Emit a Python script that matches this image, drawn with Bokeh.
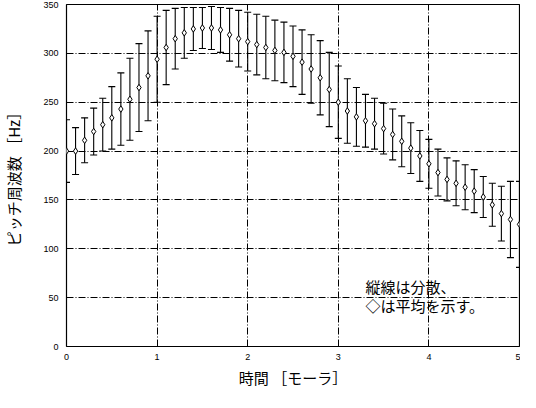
from bokeh.plotting import figure
from bokeh.models import Label, Range1d, FixedTicker
from bokeh.embed import file_html
from bokeh.resources import INLINE

# time in mora
mora = [0.0, 0.1, 0.2, 0.3, 0.4, 0.5, 0.6, 0.7, 0.8, 0.9,
        1.0, 1.1, 1.2, 1.3, 1.4, 1.5, 1.6, 1.7, 1.8, 1.9,
        2.0, 2.1, 2.2, 2.3, 2.4, 2.5, 2.6, 2.7, 2.8, 2.9,
        3.0, 3.1, 3.2, 3.3, 3.4, 3.5, 3.6, 3.7, 3.8, 3.9,
        4.0, 4.1, 4.2, 4.3, 4.4, 4.5, 4.6, 4.7, 4.8, 4.9, 5.0]
# mean pitch [Hz]
mean_hz = [200, 200, 211, 220, 227, 234, 243, 253, 265, 277,
           294, 306, 315, 321, 325, 326, 326, 324, 319, 315,
           312, 309, 306, 303, 301, 297, 291, 284, 275, 263,
           250, 241, 235, 231, 228, 223, 217, 210, 203, 195,
           187, 178, 171, 167, 163, 159, 153, 145, 136, 130, 125]
# spread (half length of vertical bar) [Hz]
spread_hz = [32, 24, 23, 24, 27, 32, 37, 42, 45, 46,
             44, 38, 31, 26, 22, 21, 22, 23, 27, 29,
             30, 31, 32, 31, 31, 31, 33, 35, 38, 38,
             37, 33, 30, 27, 26, 26, 26, 26, 26, 26,
             25, 24, 22, 23, 23, 22, 21, 22, 28, 39, 44]

x_ticks = [0, 1, 2, 3, 4, 5]
y_ticks = [0, 50, 100, 150, 200, 250, 300, 350]

x_title = "時間 ［モーラ］"
y_title = "ピッチ周波数 ［Hz］"
note_lines = ["縦線は分散、", "◇は平均を示す。"]

upper = [m + s for m, s in zip(mean_hz, spread_hz)]
lower = [m - s for m, s in zip(mean_hz, spread_hz)]

p = figure(width=520, height=392, output_backend="svg", toolbar_location=None,
           x_range=Range1d(0, 5), y_range=Range1d(0, 350),
           min_border_left=65, min_border_right=1, min_border_top=4, min_border_bottom=46)
p.background_fill_color = "white"
p.border_fill_color = "white"
p.outline_line_color = "black"
p.outline_line_width = 1.2

for ax in (p.xaxis[0], p.yaxis[0]):
    ax.axis_line_color = None
    ax.major_tick_line_color = None
    ax.minor_tick_line_color = None
    ax.major_tick_out = 0
    ax.major_tick_in = 0
    ax.minor_tick_out = 0
    ax.minor_tick_in = 0
    ax.major_label_text_font = "Liberation Sans"
    ax.major_label_text_font_size = "9px"
    ax.major_label_text_color = "black"
    ax.axis_label_text_font = "Noto Sans CJK JP"
    ax.axis_label_text_font_size = "15px"
    ax.axis_label_text_font_style = "normal"
    ax.axis_label_text_color = "black"

p.xaxis.ticker = FixedTicker(ticks=x_ticks)
p.yaxis.ticker = FixedTicker(ticks=y_ticks)
p.xaxis.major_label_standoff = 7
p.yaxis.major_label_standoff = 8
p.xaxis.axis_label = x_title
p.yaxis.axis_label = y_title
p.xaxis.axis_label_standoff = 4
p.yaxis.axis_label_standoff = 16

p.xgrid[0].ticker = FixedTicker(ticks=x_ticks)
p.ygrid[0].ticker = FixedTicker(ticks=y_ticks)
for g in (p.xgrid[0], p.ygrid[0]):
    g.grid_line_color = "black"
    g.grid_line_width = 1
    g.grid_line_dash = "7 2 1 2"

p.segment(x0=mora, y0=lower, x1=mora, y1=upper, line_color="black", line_width=1.1)
p.dash(x=mora, y=upper, size=7, line_color="black", line_width=1.1)
p.dash(x=mora, y=lower, size=7, line_color="black", line_width=1.1)
p.scatter(x=mora, y=mean_hz, marker="diamond", size=6.5, fill_color="white",
          line_color="black", line_width=1)

for txt, yy in zip(note_lines, (72, 53)):
    p.add_layout(Label(x=3.3, y=yy, text=txt, text_font="Noto Sans CJK JP",
                       text_font_size="15px", text_color="black",
                       text_baseline="top", text_align="left"))

open("out.html", "w").write(file_html(p, INLINE))
